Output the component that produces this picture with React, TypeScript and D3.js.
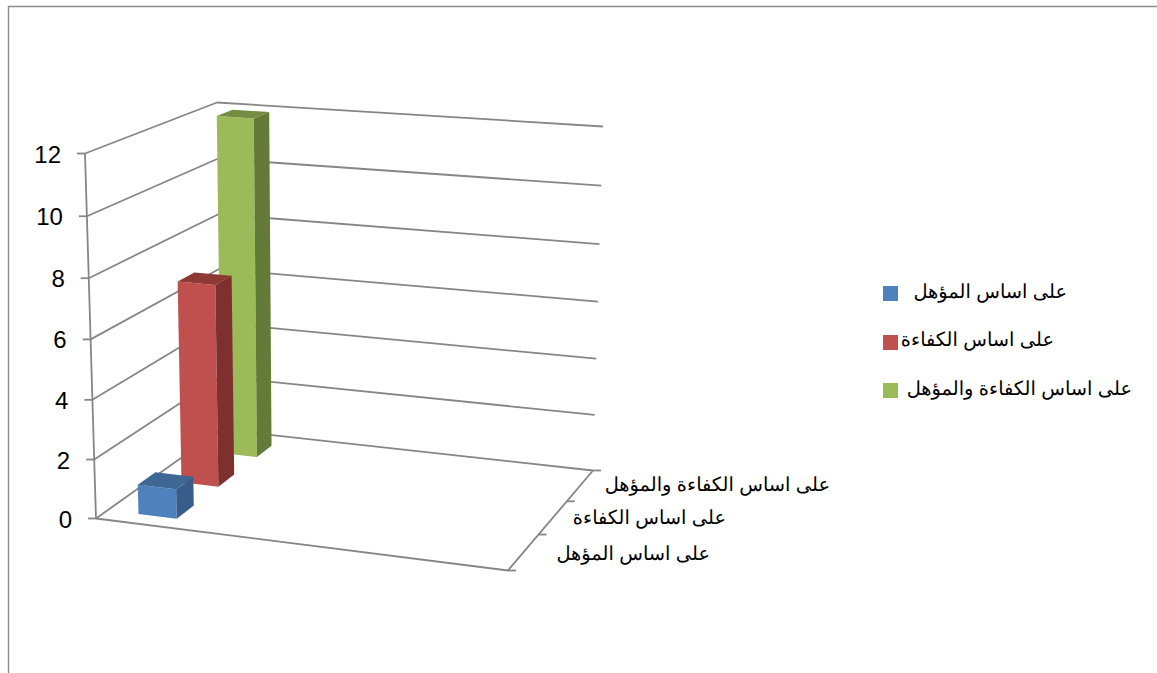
import * as d3 from "d3";

const seriesNames = ["على اساس المؤهل", "على اساس الكفاءة", "على اساس الكفاءة والمؤهل"];
const seriesValues = [1, 7, 12];
const yTicks = [0, 2, 4, 6, 8, 10, 12];

const faceColors = [
  { front: "#4f81bd", side: "#385d8a", top: "#3e6796" },
  { front: "#c0504d", side: "#7d302e", top: "#8f3936" },
  { front: "#9bbb59", side: "#647a38", top: "#758d43" },
];

const GRID = "#868686";
const FONT = "'Liberation Sans', Arial, sans-serif";

// corners of the 3d box on screen, [x, y]
const box = {
  frontBottomLeft: [96, 518.5],
  frontBottomRight: [508, 570.5],
  frontTopLeft: [85, 153.5],
  frontTopRight: [513, 185.5],
  backBottomLeft: [221, 429.5],
  backBottomRight: [593, 470.5],
  backTopLeft: [217, 102.5],
  backTopRight: [603, 126.5],
};

const y = d3.scaleLinear().domain([0, 12]).range([0, 1]);
const depth = d3.scaleBand<number>().domain([0, 1, 2]).range([-0.015, 0.985]).paddingInner(0.6).paddingOuter(0.3);
const xBand = d3.scaleBand<string>().domain(["only"]).range([0.005, 0.239]).paddingInner(0.6).paddingOuter(0.3);

// small perspective correction along y and depth
const warpY = (t: number) => t / (1 + 0.038 * (1 - t));
const warpZ = (t: number) => t / (1 - 0.11 * (1 - t));

function project(xt: number, value: number, zt: number): [number, number] {
  const v = warpY(y(value));
  const z = warpZ(zt);
  const mix = (i: 0 | 1) => {
    const fb = box.frontBottomLeft[i] * (1 - xt) + box.frontBottomRight[i] * xt;
    const ft = box.frontTopLeft[i] * (1 - xt) + box.frontTopRight[i] * xt;
    const bb = box.backBottomLeft[i] * (1 - xt) + box.backBottomRight[i] * xt;
    const bt = box.backTopLeft[i] * (1 - xt) + box.backTopRight[i] * xt;
    const front = fb * (1 - v) + ft * v;
    const back = bb * (1 - v) + bt * v;
    return front * (1 - z) + back * z;
  };
  return [mix(0), mix(1)];
}

const poly = d3.line().curve(d3.curveLinearClosed);

function Bar({ index }: { index: number }) {
  const x0 = xBand("only")!;
  const x1 = x0 + xBand.bandwidth();
  const z0 = depth(index)!;
  const z1 = z0 + depth.bandwidth();
  const v = seriesValues[index];
  const c = faceColors[index];
  return (
    <g>
      <path
        d={poly([project(x0, 0, z0), project(x1, 0, z0), project(x1, v, z0), project(x0, v, z0)])!}
        fill={c.front}
      />
      <path
        d={poly([project(x1, 0, z0), project(x1, 0, z1), project(x1, v, z1), project(x1, v, z0)])!}
        fill={c.side}
      />
      <path
        d={poly([project(x0, v, z0), project(x1, v, z0), project(x1, v, z1), project(x0, v, z1)])!}
        fill={c.top}
      />
    </g>
  );
}

function Seg({ a, b }: { a: [number, number]; b: [number, number] }) {
  return <line x1={a[0]} y1={a[1]} x2={b[0]} y2={b[1]} stroke={GRID} strokeWidth={1.8} />;
}

const depthLabels = [
  { x: 710, y: 560 },
  { x: 726, y: 524 },
  { x: 830, y: 491 },
];
const legendRows = [
  { y: 286, textX: 1067, textY: 298 },
  { y: 335, textX: 1054, textY: 346 },
  { y: 383, textX: 1132, textY: 395 },
];

export default function App() {
  return (
    <svg
      width={1157}
      height={673}
      style={{ position: "absolute", left: 0, top: 0, display: "block", background: "#fff" }}
    >
      {/* outer frame */}
      <line x1={8} y1={6.5} x2={1157} y2={6.5} stroke="#8c8c8c" strokeWidth={1.4} />
      <line x1={8.5} y1={6} x2={8.5} y2={673} stroke="#8c8c8c" strokeWidth={1.4} />

      {/* walls and gridlines */}
      {yTicks.map((t) => (
        <g key={t}>
          <Seg a={project(0, t, 0)} b={project(0, t, 1)} />
          <Seg a={project(0, t, 1)} b={project(1, t, 1)} />
          <Seg a={[project(0, t, 0)[0] - 8, project(0, t, 0)[1]]} b={project(0, t, 0)} />
          <text
            x={project(0, t, 0)[0] - 24}
            y={project(0, t, 0)[1] + 9}
            textAnchor="end"
            fontFamily={FONT}
            fontSize={24}
            fill="#000"
          >
            {t}
          </text>
        </g>
      ))}
      <Seg a={project(0, 0, 0)} b={project(0, 12, 0)} />
      <Seg a={project(0, 0, 0)} b={project(1, 0, 0)} />
      <Seg a={project(1, 0, 0)} b={project(1, 0, 1)} />
      {[0, 1 / 3, 2 / 3, 1].map((z) => {
        const p = project(1, 0, z);
        return <Seg key={z} a={p} b={[p[0] + 8, p[1]]} />;
      })}

      {/* back to front */}
      {[2, 1, 0].map((i) => (
        <Bar key={i} index={i} />
      ))}

      {/* depth axis labels */}
      {seriesNames.map((name, i) => (
        <text
          key={name}
          x={depthLabels[i].x}
          y={depthLabels[i].y}
          direction="rtl"
          textAnchor="start"
          textRendering="geometricPrecision"
          fontFamily={FONT}
          fontSize={19.4}
          fill="#000"
        >
          {name}
        </text>
      ))}

      {/* legend */}
      {seriesNames.map((name, i) => (
        <g key={name}>
          <rect x={883} y={legendRows[i].y} width={15} height={15} fill={faceColors[i].front} />
          <text
            x={legendRows[i].textX}
            y={legendRows[i].textY}
            direction="rtl"
            textAnchor="start"
            textRendering="geometricPrecision"
            fontFamily={FONT}
            fontSize={19.4}
            fill="#000"
          >
            {name}
          </text>
        </g>
      ))}
    </svg>
  );
}
